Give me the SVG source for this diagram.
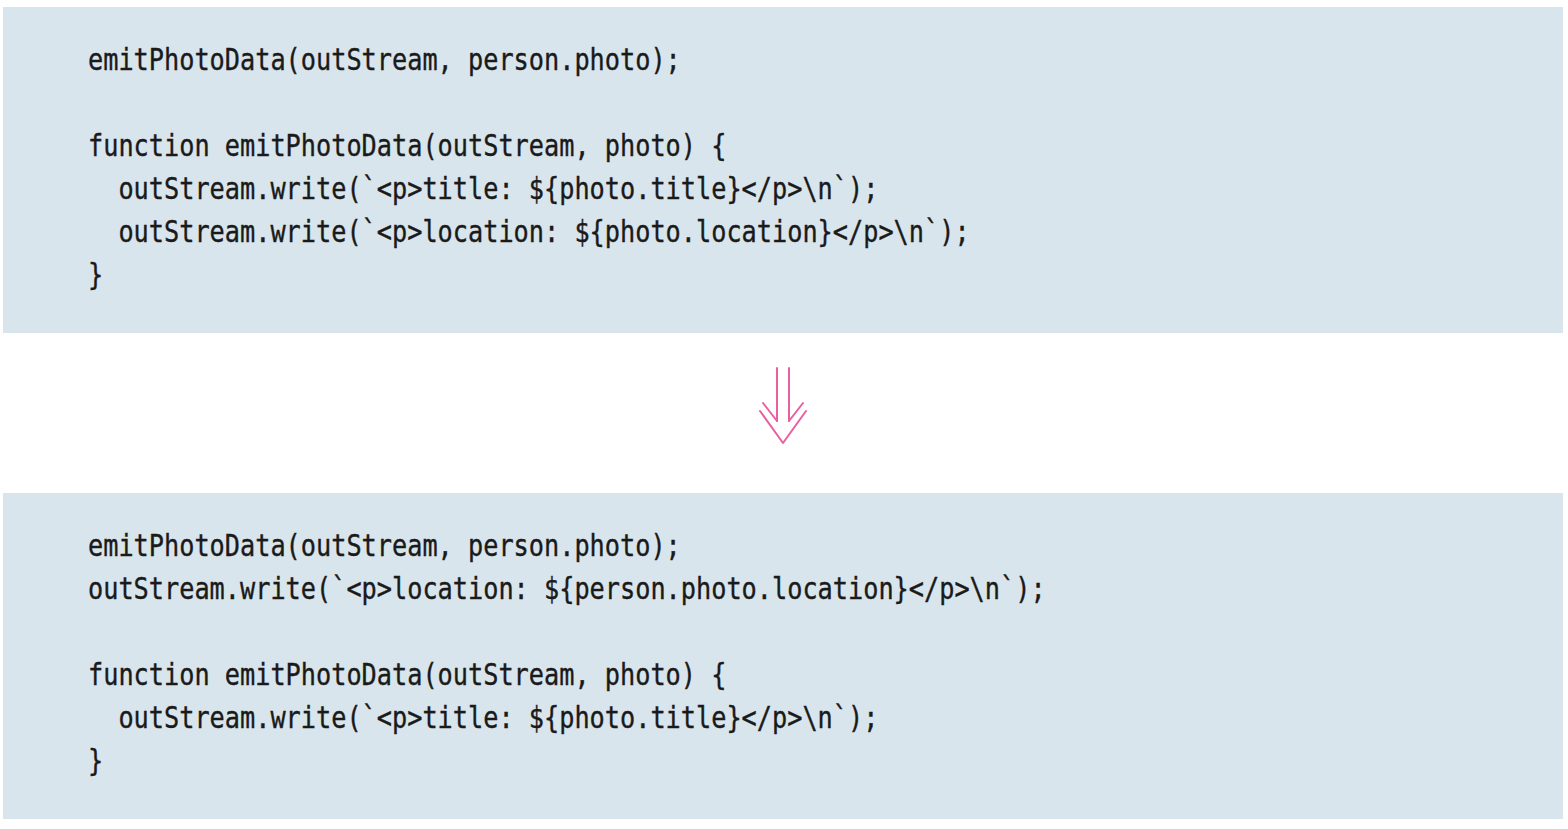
<svg xmlns="http://www.w3.org/2000/svg" width="1568" height="829" viewBox="0 0 1568 829">
<style>
.box{fill:#d9e5ec;}
.code{font-family:"DejaVu Sans Mono","Liberation Mono",monospace;font-size:31px;fill:#1a1a1a;stroke:#1a1a1a;stroke-width:0.4px;}
.arr{fill:none;stroke:#ea5fa0;stroke-width:2;stroke-linecap:round;stroke-linejoin:round;}
</style>
<rect width="1568" height="829" fill="#ffffff"/>
<g id="before">
<rect class="box" x="3" y="7" width="1560" height="326"/>
<text class="code" x="88" y="70" textLength="592.8" lengthAdjust="spacingAndGlyphs">emitPhotoData(outStream, person.photo);</text>
<text class="code" x="88" y="156" textLength="638.4" lengthAdjust="spacingAndGlyphs">function emitPhotoData(outStream, photo) {</text>
<text class="code" x="118.4" y="199" textLength="760" lengthAdjust="spacingAndGlyphs">outStream.write(`&lt;p&gt;title: ${photo.title}&lt;/p&gt;\n`);</text>
<text class="code" x="118.4" y="242" textLength="851.2" lengthAdjust="spacingAndGlyphs">outStream.write(`&lt;p&gt;location: ${photo.location}&lt;/p&gt;\n`);</text>
<text class="code" x="88" y="285" textLength="15.2" lengthAdjust="spacingAndGlyphs">}</text>
</g>
<g id="connectors">
<line class="arr" x1="777" y1="368" x2="777" y2="421"/>
<line class="arr" x1="789" y1="368" x2="789" y2="421"/>
<polyline class="arr" points="763,403 777,421"/>
<polyline class="arr" points="803,403 789,421"/>
<polyline class="arr" points="760,411 783,443 806,411"/>
</g>
<g id="after">
<rect class="box" x="3" y="493" width="1560" height="326"/>
<text class="code" x="88" y="556" textLength="592.8" lengthAdjust="spacingAndGlyphs">emitPhotoData(outStream, person.photo);</text>
<text class="code" x="88" y="599" textLength="957.6" lengthAdjust="spacingAndGlyphs">outStream.write(`&lt;p&gt;location: ${person.photo.location}&lt;/p&gt;\n`);</text>
<text class="code" x="88" y="685" textLength="638.4" lengthAdjust="spacingAndGlyphs">function emitPhotoData(outStream, photo) {</text>
<text class="code" x="118.4" y="728" textLength="760" lengthAdjust="spacingAndGlyphs">outStream.write(`&lt;p&gt;title: ${photo.title}&lt;/p&gt;\n`);</text>
<text class="code" x="88" y="771" textLength="15.2" lengthAdjust="spacingAndGlyphs">}</text>
</g>
</svg>
